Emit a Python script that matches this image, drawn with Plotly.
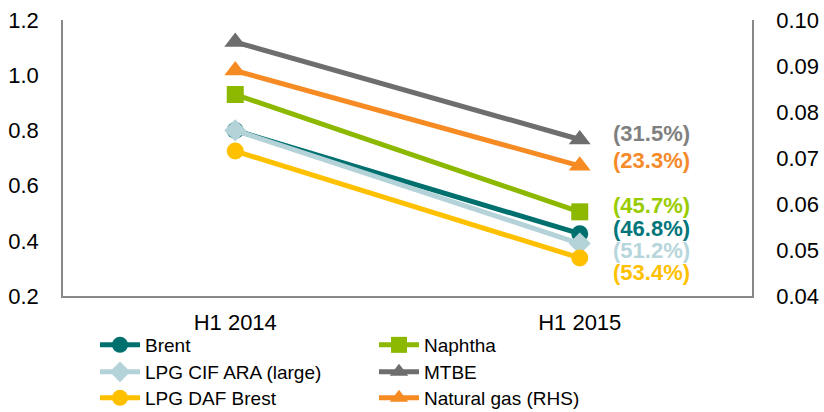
import plotly.graph_objects as go

periods = ["H1 2014", "H1 2015"]

brent = [0.80, 0.4256]
naphtha = [0.93, 0.505]
lpg_cif_ara = [0.80, 0.39]
mtbe = [1.12, 0.767]
lpg_daf_brest = [0.725, 0.338]
natural_gas = [0.089, 0.0683]  # right-hand scale

change_labels = ["(31.5%)", "(23.3%)", "(45.7%)", "(46.8%)", "(51.2%)", "(53.4%)"]
label_colors = ["#808080", "#F58A2A", "#99CC00", "#00757A", "#B7D6DC", "#FFC000"]
label_y_px = [133, 160, 205, 228, 250, 272]

FONT = "Liberation Sans, Arial, sans-serif"
W, H = 824, 412
PLOT_L, PLOT_R, PLOT_T, PLOT_B = 63, 752, 20, 296
LEGEND_ROWS_PX = [345, 372, 398]

fig = go.Figure()


def add_series(name, values, color, symbol, size, legend, yaxis="y"):
    fig.add_trace(go.Scatter(
        x=periods, y=values, name=name, mode="lines+markers",
        line=dict(color=color, width=5),
        marker=dict(color=color, symbol=symbol, size=size),
        yaxis=yaxis, legend=legend,
    ))


# two legend entries per row, one legend per row
add_series("Brent", brent, "#00706F", "circle", 17, "legend")
add_series("Naphtha", naphtha, "#8CB800", "square", 17, "legend")
add_series("LPG CIF ARA (large)", lpg_cif_ara, "#B3D3D9", "diamond", 17, "legend2")
add_series("MTBE", mtbe, "#6E6E6E", "triangle-up", 19, "legend2")
add_series("LPG DAF Brest", lpg_daf_brest, "#FFC000", "circle", 17, "legend3")
add_series("Natural gas (RHS)", natural_gas, "#F68B24", "triangle-up", 19, "legend3", yaxis="y2")

# Percentage change labels beside the H1 2015 points
label_x = (651 - PLOT_L) / (PLOT_R - PLOT_L)
for text, color, ypx in zip(change_labels, label_colors, label_y_px):
    fig.add_annotation(
        x=label_x, xref="paper",
        y=1 - (ypx - PLOT_T) / (PLOT_B - PLOT_T), yref="paper",
        text="<b>%s</b>" % text, showarrow=False,
        font=dict(family=FONT, size=22, color=color),
        xanchor="center", yanchor="middle",
    )


def legend_row(ypx):
    return dict(
        orientation="h", xref="container", x=95 / W, xanchor="left",
        yref="container", y=1 - ypx / H, yanchor="middle",
        entrywidth=224, entrywidthmode="pixels",
        font=dict(family=FONT, size=19, color="#000000"),
        itemwidth=40, tracegroupgap=0, traceorder="normal",
        bgcolor="rgba(0,0,0,0)",
    )


fig.update_layout(
    width=W, height=H,
    margin=dict(l=PLOT_L, r=W - PLOT_R, t=PLOT_T, b=H - PLOT_B, autoexpand=False),
    plot_bgcolor="white", paper_bgcolor="white",
    font=dict(family=FONT, size=20, color="#000000"),
    showlegend=True,
    legend=legend_row(LEGEND_ROWS_PX[0]),
    legend2=legend_row(LEGEND_ROWS_PX[1]),
    legend3=legend_row(LEGEND_ROWS_PX[2]),
    xaxis=dict(
        type="category", range=[-0.5, 1.5],
        showline=True, linecolor="#888888", linewidth=1.5,
        showgrid=False, ticks="", ticklabelstandoff=6,
        tickfont=dict(family=FONT, size=22),
    ),
    yaxis=dict(
        range=[0.2, 1.2], dtick=0.2, tickformat=".1f",
        showline=True, linecolor="#888888", linewidth=1.5,
        showgrid=False, zeroline=False, ticks="", ticklabelstandoff=18,
        tickfont=dict(family=FONT, size=22),
    ),
    yaxis2=dict(
        range=[0.04, 0.10], dtick=0.01, tickformat=".2f",
        overlaying="y", side="right",
        showline=True, linecolor="#888888", linewidth=1.5,
        showgrid=False, zeroline=False, ticks="", ticklabelstandoff=18,
        tickfont=dict(family=FONT, size=22),
    ),
)

fig.write_html("out.html")
